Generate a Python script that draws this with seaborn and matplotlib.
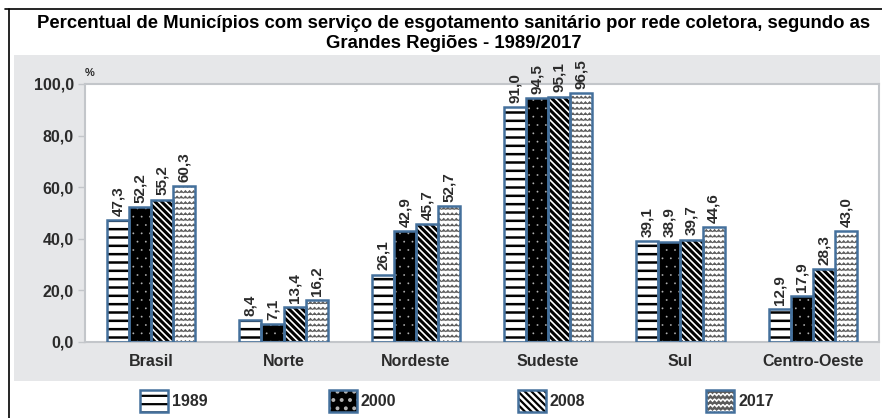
import numpy as np
import pandas as pd
import matplotlib
matplotlib.use("Agg")
import matplotlib.pyplot as plt
import matplotlib.hatch as mhatch
from matplotlib.path import Path
from matplotlib.patches import Patch, Rectangle
from matplotlib.lines import Line2D
from matplotlib.legend_handler import HandlerTuple
import seaborn as sns

# ---------------- data ----------------
regioes = ["Brasil", "Norte", "Nordeste", "Sudeste", "Sul", "Centro-Oeste"]
anos = ["1989", "2000", "2008", "2017"]
v1989 = [47.3, 8.4, 26.1, 91.0, 39.1, 12.9]
v2000 = [52.2, 7.1, 42.9, 94.5, 38.9, 17.9]
v2008 = [55.2, 13.4, 45.7, 95.1, 39.7, 28.3]
v2017 = [60.3, 16.2, 52.7, 96.5, 44.6, 43.0]
yticks = [0, 20, 40, 60, 80, 100]
title = ("Percentual de Municípios com serviço de esgotamento sanitário por rede coletora, segundo as\n"
         "Grandes Regiões - 1989/2017")


# ---------------- custom zig-zag hatch (triggered by '*') ----------------
class ZigZagHatch(mhatch.HatchPatternBase):
    def __init__(self, hatch, density):
        self.num_lines = int(hatch.count('*') * density)
        self.teeth = 24
        self.num_vertices = self.num_lines * (2 * self.teeth + 1)

    def set_vertices_and_codes(self, vertices, codes):
        n, t = self.num_lines, self.teeth
        xs = np.linspace(0.0, 1.0, 2 * t + 1)
        step = 1.0 / n
        amp = step * 0.4
        idx = 0
        for i in range(n):
            y0 = i * step + step / 2
            ys = y0 + np.where(np.arange(2 * t + 1) % 2 == 0, -amp / 2, amp / 2)
            vertices[idx:idx + 2 * t + 1, 0] = xs
            vertices[idx:idx + 2 * t + 1, 1] = ys
            codes[idx] = Path.MOVETO
            codes[idx + 1:idx + 2 * t + 1] = Path.LINETO
            idx += 2 * t + 1


mhatch._hatch_types = [h for h in mhatch._hatch_types if h.__name__ != "Stars"] + [ZigZagHatch]

# ---------------- style ----------------
sns.set_theme(style="white")
plt.rcParams["font.family"] = ["Liberation Sans", "DejaVu Sans"]
plt.rcParams["hatch.linewidth"] = 1.6

EDGE = "#44709c"
TXT = "#2b2b2b"
GRAYBG = "#e6e7e9"
SPINE = "#c3c6ca"

styles = {
    "1989": dict(face="white", hatch="--", hcolor="black", hlw=1.8),
    "2000": dict(face="black", hatch="..", hcolor="#b5b5b5", hlw=0.1),
    "2008": dict(face="white", hatch="\\\\\\\\\\", hcolor="black", hlw=2.2),
    "2017": dict(face="white", hatch="***", hcolor="#5a5a5a", hlw=0.6),
}

df = pd.DataFrame({
    "Região": regioes * 4,
    "Ano": sum([[a] * len(regioes) for a in anos], []),
    "Valor": v1989 + v2000 + v2008 + v2017,
})

fig = plt.figure(figsize=(8.82, 4.18), dpi=100)
fig.patch.set_facecolor("white")

# gray panel and black frame lines (figure coordinates)
W, H = 882.0, 418.0
fig.patches.append(Rectangle((14 / W, 1 - 381 / H), (880 - 14) / W, (381 - 55) / H,
                             transform=fig.transFigure, facecolor=GRAYBG, edgecolor="none",
                             zorder=-10))
fig.lines.append(Line2D([5 / W, 1.0], [1 - 9 / H, 1 - 9 / H], transform=fig.transFigure,
                        color="black", lw=1.2, zorder=-5))
fig.lines.append(Line2D([9 / W, 9 / W], [0.0, 1 - 9 / H], transform=fig.transFigure,
                        color="black", lw=1.2, zorder=-5))

ax = fig.add_axes([85 / W, 1 - 342 / H, (879 - 85) / W, (342 - 84) / H])
ax.set_facecolor("white")
ax.set_zorder(1)

sns.barplot(data=df, x="Região", y="Valor", hue="Ano", hue_order=anos, order=regioes,
            width=0.67, gap=0, errorbar=None, legend=False, ax=ax, saturation=1)

for ano, cont in zip(anos, ax.containers):
    st = styles[ano]
    for bar in cont.patches:
        bar.set_facecolor(st["face"])
        bar.set_edgecolor(st["hcolor"])
        bar.set_hatch(st["hatch"])
        bar.set_linewidth(0)
        if hasattr(bar, "set_hatch_linewidth"):
            bar.set_hatch_linewidth(st["hlw"])
        outline = Rectangle(bar.get_xy(), bar.get_width(), bar.get_height(),
                            fill=False, edgecolor=EDGE, linewidth=1.8, zorder=3)
        ax.add_patch(outline)
    vals = [f"{b.get_height():.1f}".replace(".", ",") for b in cont.patches]
    ax.bar_label(cont, labels=vals, rotation=90, padding=3, fontsize=11,
                 fontweight="bold", color=TXT, clip_on=False)

ax.set_ylim(0, 100)
ax.set_yticks(yticks)
ax.set_yticklabels([f"{t:.1f}".replace(".", ",") for t in yticks])
ax.set_xlabel("")
ax.set_ylabel("")
ax.tick_params(axis="y", which="major", left=True, length=5, width=1, color=SPINE,
               labelsize=11.5, labelcolor=TXT, pad=3)
ax.tick_params(axis="x", bottom=False, labelsize=11.5, labelcolor=TXT, pad=3)
for lab in ax.get_yticklabels() + ax.get_xticklabels():
    lab.set_fontweight("bold")
for s in ax.spines.values():
    s.set_color(SPINE)
    s.set_linewidth(1.5)

ax.text(0.0, 1.025, "%", transform=ax.transAxes, fontsize=8, fontweight="bold",
        color=TXT, ha="left", va="bottom")

fig.text(0.514, 1 - 33.5 / H, title, ha="center", va="center", fontsize=13.3,
         fontweight="bold", color="black", linespacing=1.3,
         family=["Liberation Sans Narrow", "Liberation Sans", "DejaVu Sans"])

# legend
handles = []
for ano in anos:
    st = styles[ano]
    p1 = Patch(facecolor=st["face"], edgecolor=st["hcolor"], hatch=st["hatch"], linewidth=0)
    if hasattr(p1, "set_hatch_linewidth"):
        p1.set_hatch_linewidth(st["hlw"])
    p2 = Patch(fill=False, edgecolor=EDGE, linewidth=1.8)
    handles.append((p1, p2))
leg = fig.legend(handles, anos, handler_map={tuple: HandlerTuple(ndivide=1, pad=0)},
                 loc="center", bbox_to_anchor=(0.518, 1 - 401 / H), ncol=4, frameon=False,
                 handlelength=1.75, handleheight=1.7, handletextpad=0.25, columnspacing=7.6,
                 prop=dict(size=11.5, weight="bold"))
for t in leg.get_texts():
    t.set_color(TXT)

fig.savefig("out.png", dpi=100, facecolor="white")
